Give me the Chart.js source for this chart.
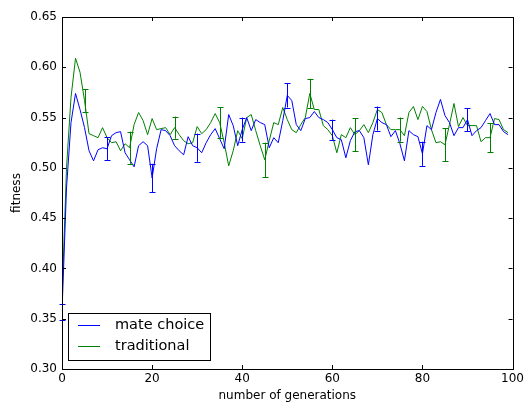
<!DOCTYPE html>
<html>
<head>
<meta charset="utf-8">
<script src="https://cdn.jsdelivr.net/npm/chart.js@4"></script>
<style>
  html, body { margin: 0; padding: 0; background: #fff; }
</style>
</head>
<body>
<canvas id="chart" width="527" height="403"></canvas>
<script>
// generation index (0..99)
const generations = Array.from({ length: 100 }, (_, i) => i);

const mateChoice = [
  0.357, 0.480, 0.545, 0.574, 0.558, 0.540, 0.517, 0.507, 0.518, 0.520,
  0.519, 0.532, 0.535, 0.536, 0.515, 0.508, 0.501, 0.522, 0.526, 0.522,
  0.490, 0.519, 0.538, 0.537, 0.532, 0.522, 0.517, 0.513, 0.531, 0.522,
  0.520, 0.515, 0.525, 0.533, 0.539, 0.529, 0.519, 0.553, 0.542, 0.522,
  0.538, 0.550, 0.537, 0.548, 0.545, 0.543, 0.520, 0.530, 0.525, 0.547,
  0.572, 0.567, 0.543, 0.537, 0.549, 0.550, 0.556, 0.550, 0.548, 0.545,
  0.538, 0.530, 0.528, 0.510, 0.527, 0.536, 0.537, 0.530, 0.503, 0.533,
  0.549, 0.545, 0.543, 0.531, 0.537, 0.524, 0.507, 0.537, 0.533, 0.531,
  0.514, 0.542, 0.538, 0.555, 0.568, 0.552, 0.545, 0.532, 0.540, 0.540,
  0.548, 0.532, 0.537, 0.540, 0.547, 0.554, 0.543, 0.543, 0.536, 0.533
];

const traditional = [
  0.370, 0.500, 0.570, 0.609, 0.595, 0.567, 0.534, 0.532, 0.530, 0.540,
  0.530, 0.525, 0.526, 0.517, 0.524, 0.520, 0.543, 0.555, 0.547, 0.533,
  0.549, 0.538, 0.539, 0.540, 0.533, 0.540, 0.533, 0.527, 0.524, 0.525,
  0.541, 0.534, 0.538, 0.545, 0.554, 0.545, 0.525, 0.502, 0.517, 0.537,
  0.529, 0.550, 0.553, 0.537, 0.522, 0.508, 0.527, 0.545, 0.543, 0.560,
  0.548, 0.538, 0.535, 0.543, 0.550, 0.574, 0.558, 0.558, 0.542, 0.538,
  0.532, 0.515, 0.533, 0.530, 0.540, 0.533, 0.537, 0.543, 0.535, 0.545,
  0.558, 0.555, 0.543, 0.538, 0.538, 0.538, 0.532, 0.555, 0.561, 0.548,
  0.561, 0.556, 0.538, 0.525, 0.526, 0.523, 0.543, 0.564, 0.541, 0.550,
  0.542, 0.542, 0.542, 0.526, 0.530, 0.530, 0.549, 0.548, 0.538, 0.535
];

// error bars: generations and half widths
const mateErrGens = [0, 10, 20, 30, 40, 50, 60, 70, 80, 90];
const mateErr = [0.008, 0.0115, 0.014, 0.014, 0.012, 0.012, 0.010, 0.012, 0.012, 0.0115];
const tradErrGens = [5, 15, 25, 35, 45, 55, 65, 75, 85, 95];
const tradErr = [0.011, 0.016, 0.011, 0.0155, 0.017, 0.0145, 0.0165, 0.012, 0.0165, 0.0145];

const xTicks = [0, 20, 40, 60, 80, 100];
const yTicks = [0.30, 0.35, 0.40, 0.45, 0.50, 0.55, 0.60, 0.65];

const BLUE = '#0000ff';
const GREEN = '#008000';
const FONT = 'DejaVu Sans';

const errorBars = [
  { gens: mateErrGens, err: mateErr, values: mateChoice, color: BLUE },
  { gens: tradErrGens, err: tradErr, values: traditional, color: GREEN }
];

const matplotlibFrame = {
  id: 'matplotlibFrame',
  afterDatasetsDraw(chart) {
    const { ctx, scales: { x, y } } = chart;
    ctx.save();
    ctx.lineWidth = 1;
    errorBars.forEach(eb => {
      ctx.strokeStyle = eb.color;
      eb.gens.forEach((g, i) => {
        const v = eb.values[generations.indexOf(g)];
        const px = Math.round(x.getPixelForValue(g)) + 0.5;
        const top = y.getPixelForValue(v + eb.err[i]);
        const bot = y.getPixelForValue(v - eb.err[i]);
        ctx.beginPath();
        ctx.moveTo(px, top); ctx.lineTo(px, bot);
        ctx.moveTo(px - 3, Math.round(top) + 0.5); ctx.lineTo(px + 3, Math.round(top) + 0.5);
        ctx.moveTo(px - 3, Math.round(bot) + 0.5); ctx.lineTo(px + 3, Math.round(bot) + 0.5);
        ctx.stroke();
      });
    });
    ctx.restore();
  },
  afterDraw(chart) {
    const { ctx, chartArea: a, scales: { x, y } } = chart;
    ctx.save();
    ctx.strokeStyle = '#000';
    ctx.lineWidth = 1;
    ctx.strokeRect(Math.round(a.left) + 0.5, Math.round(a.top) + 0.5,
      Math.round(a.right - a.left), Math.round(a.bottom - a.top));

    // inward ticks on all four sides
    ctx.beginPath();
    xTicks.forEach(t => {
      const px = Math.round(x.getPixelForValue(t)) + 0.5;
      ctx.moveTo(px, a.bottom); ctx.lineTo(px, a.bottom - 4);
      ctx.moveTo(px, a.top); ctx.lineTo(px, a.top + 4);
    });
    yTicks.forEach(t => {
      const py = Math.round(y.getPixelForValue(t)) + 0.5;
      ctx.moveTo(a.left, py); ctx.lineTo(a.left + 4, py);
      ctx.moveTo(a.right, py); ctx.lineTo(a.right - 4, py);
    });
    ctx.stroke();

    // legend, lower left
    const lx = 68.5, ly = 313.5, lw = 142, lh = 47;
    ctx.fillStyle = '#fff';
    ctx.fillRect(lx, ly, lw, lh);
    ctx.strokeStyle = '#000';
    ctx.strokeRect(lx, ly, lw, lh);
    ctx.font = '14.5px ' + FONT;
    ctx.textBaseline = 'middle';
    chart.data.datasets.forEach((ds, i) => {
      const cy = 325.5 + i * 21;
      ctx.strokeStyle = ds.borderColor;
      ctx.beginPath();
      ctx.moveTo(78, cy); ctx.lineTo(100, cy);
      ctx.stroke();
      ctx.fillStyle = '#000';
      ctx.fillText(ds.label, 115, cy);
    });
    ctx.restore();
  }
};

new Chart(document.getElementById('chart'), {
  type: 'line',
  data: {
    labels: generations,
    datasets: [
      { label: 'mate choice', data: mateChoice, borderColor: BLUE, borderWidth: 1, pointRadius: 0, tension: 0, fill: false },
      { label: 'traditional', data: traditional, borderColor: GREEN, borderWidth: 1, pointRadius: 0, tension: 0, fill: false }
    ]
  },
  options: {
    responsive: false,
    animation: false,
    devicePixelRatio: 1,
    layout: { padding: { top: 17, right: 14, left: 0, bottom: 0 } },
    plugins: { legend: { display: false }, tooltip: { enabled: false } },
    scales: {
      x: {
        type: 'linear',
        min: 0, max: 100,
        afterFit: s => { s.height = 34; },
        afterBuildTicks: s => { s.ticks = xTicks.map(v => ({ value: v })); },
        grid: { display: false, drawTicks: false },
        border: { display: false },
        ticks: { color: '#000', padding: 3, maxRotation: 0, font: { family: FONT, size: 12 } },
        title: { display: true, text: 'number of generations', color: '#000', padding: { top: 0, bottom: 0 }, font: { family: FONT, size: 12 } }
      },
      y: {
        min: 0.30, max: 0.65,
        afterFit: s => { s.width = 62; },
        afterBuildTicks: s => { s.ticks = yTicks.map(v => ({ value: v })); },
        grid: { display: false, drawTicks: false },
        border: { display: false },
        ticks: { color: '#000', padding: 5, font: { family: FONT, size: 12 }, callback: v => v.toFixed(2) },
        title: { display: true, text: 'fitness', color: '#000', padding: { top: 10, bottom: 0 }, font: { family: FONT, size: 12 } }
      }
    }
  },
  plugins: [matplotlibFrame]
});
</script>
</body>
</html>
